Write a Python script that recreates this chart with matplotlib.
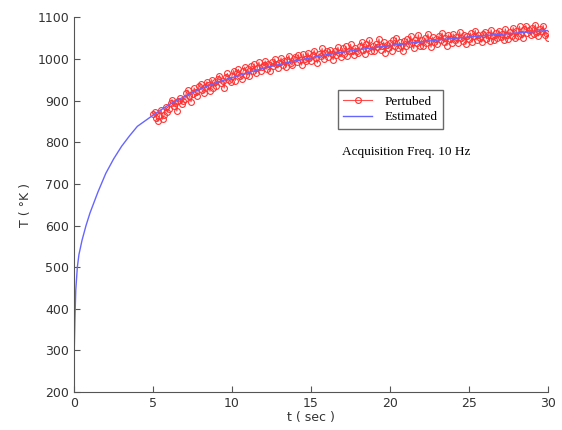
import numpy as np
import matplotlib
matplotlib.use('Agg')
import matplotlib.pyplot as plt

# 估计曲线
t_est = [0, 0.05, 0.1, 0.2, 0.3, 0.5, 0.75, 1, 1.5, 2, 2.5, 3, 3.5, 4, 5, 6, 7, 8, 9, 10,
         12, 14, 16, 18, 20, 22, 24, 26, 28, 30]
T_est = [295, 380, 445, 500, 530, 565, 600, 630, 680, 725, 760, 790, 815, 838, 865, 890, 910, 928, 943, 955,
         978, 995, 1010, 1022, 1032, 1041, 1049, 1056, 1062, 1068]

# 扰动数据 10 Hz, t = 5.0 ... 30.0
t_pert = np.arange(251) / 10 + 5.0
T_pert = [
    868, 872, 858, 850, 862, 878, 855, 866, 884, 872,
    880, 895, 902, 886, 893, 875, 898, 905, 892, 900,
    903, 918, 925, 910, 897, 915, 930, 921, 912, 935,
    940, 925, 918, 932, 945, 938, 922, 950, 930, 944,
    935, 952, 960, 942, 948, 930, 957, 965, 950, 944,
    960, 972, 948, 966, 975, 958, 952, 970, 980, 962,
    975, 960, 983, 970, 988, 965, 978, 992, 972, 980,
    985, 995, 975, 988, 970, 992, 982, 1000, 987, 978,
    990, 1002, 985, 996, 980, 998, 1008, 990, 985, 1000,
    1005, 992, 1010, 998, 985, 1012, 1000, 994, 1015, 1002,
    995, 1010, 1020, 1003, 990, 1012, 1008, 1025, 1000, 1015,
    1018, 1005, 1022, 1012, 998, 1020, 1010, 1028, 1015, 1005,
    1025, 1012, 1030, 1008, 1020, 1035, 1018, 1010, 1027, 1020,
    1015, 1030, 1040, 1022, 1012, 1035, 1025, 1045, 1020, 1030,
    1018, 1035, 1028, 1048, 1022, 1030, 1040, 1015, 1033, 1025,
    1038, 1020, 1045, 1030, 1050, 1025, 1040, 1032, 1018, 1042,
    1030, 1048, 1035, 1055, 1040, 1025, 1045, 1038, 1058, 1032,
    1045, 1030, 1050, 1038, 1060, 1042, 1028, 1052, 1040, 1047,
    1035, 1055, 1045, 1062, 1040, 1050, 1032, 1058, 1048, 1038,
    1060, 1045, 1052, 1038, 1065, 1050, 1042, 1058, 1035, 1055,
    1048, 1062, 1040, 1055, 1068, 1045, 1058, 1050, 1040, 1060,
    1065, 1048, 1058, 1042, 1070, 1055, 1045, 1062, 1050, 1068,
    1052, 1060, 1045, 1072, 1058, 1048, 1065, 1055, 1075, 1050,
    1068, 1055, 1078, 1060, 1050, 1072, 1080, 1062, 1070, 1058,
    1075, 1060, 1082, 1065, 1055, 1072, 1068, 1080, 1058, 1062,
    1050,
]

fig = plt.figure(figsize=(5.62, 4.30), dpi=100)
ax = fig.add_axes([0.132, 0.088, 0.843, 0.872])

ax.plot(t_pert, T_pert, color=(1, 0.3, 0.3), lw=0.8, marker='o', ms=4.2,
        mfc='none', mec=(1, 0.2, 0.2), mew=0.8, label='Pertubed')
ax.plot(t_est, T_est, color=(0.4, 0.4, 1), lw=1.0, label='Estimated')

ax.set_xlim(0, 30)
ax.set_ylim(200, 1100)
ax.set_xticks([0, 5, 10, 15, 20, 25, 30])
ax.set_yticks(range(200, 1101, 100))
ax.spines['top'].set_visible(False)
ax.spines['right'].set_visible(False)
for s in ['left', 'bottom']:
    ax.spines[s].set_color('#555555')
ax.tick_params(direction='in', length=4, labelsize=9, colors='#555555', labelcolor='#333333')

ax.set_xlabel('t ( sec )', fontsize=9, color='#333333', labelpad=1)
ax.set_ylabel('T ( °K )', fontsize=9, color='#333333', labelpad=4)

leg = ax.legend(loc='upper left', bbox_to_anchor=(0.557, 0.805), fancybox=False,
                prop={'family': 'Liberation Serif', 'size': 9.5}, handlelength=2.2,
                borderpad=0.4, labelspacing=0.25, handletextpad=0.9, borderaxespad=0)
leg.get_frame().set_edgecolor('#444444')
leg.get_frame().set_linewidth(1.0)

ax.text(0.70, 0.64, 'Acquisition Freq. 10 Hz', transform=ax.transAxes,
        ha='center', va='center', family='Liberation Serif', fontsize=9.5)

plt.savefig('out.png')
